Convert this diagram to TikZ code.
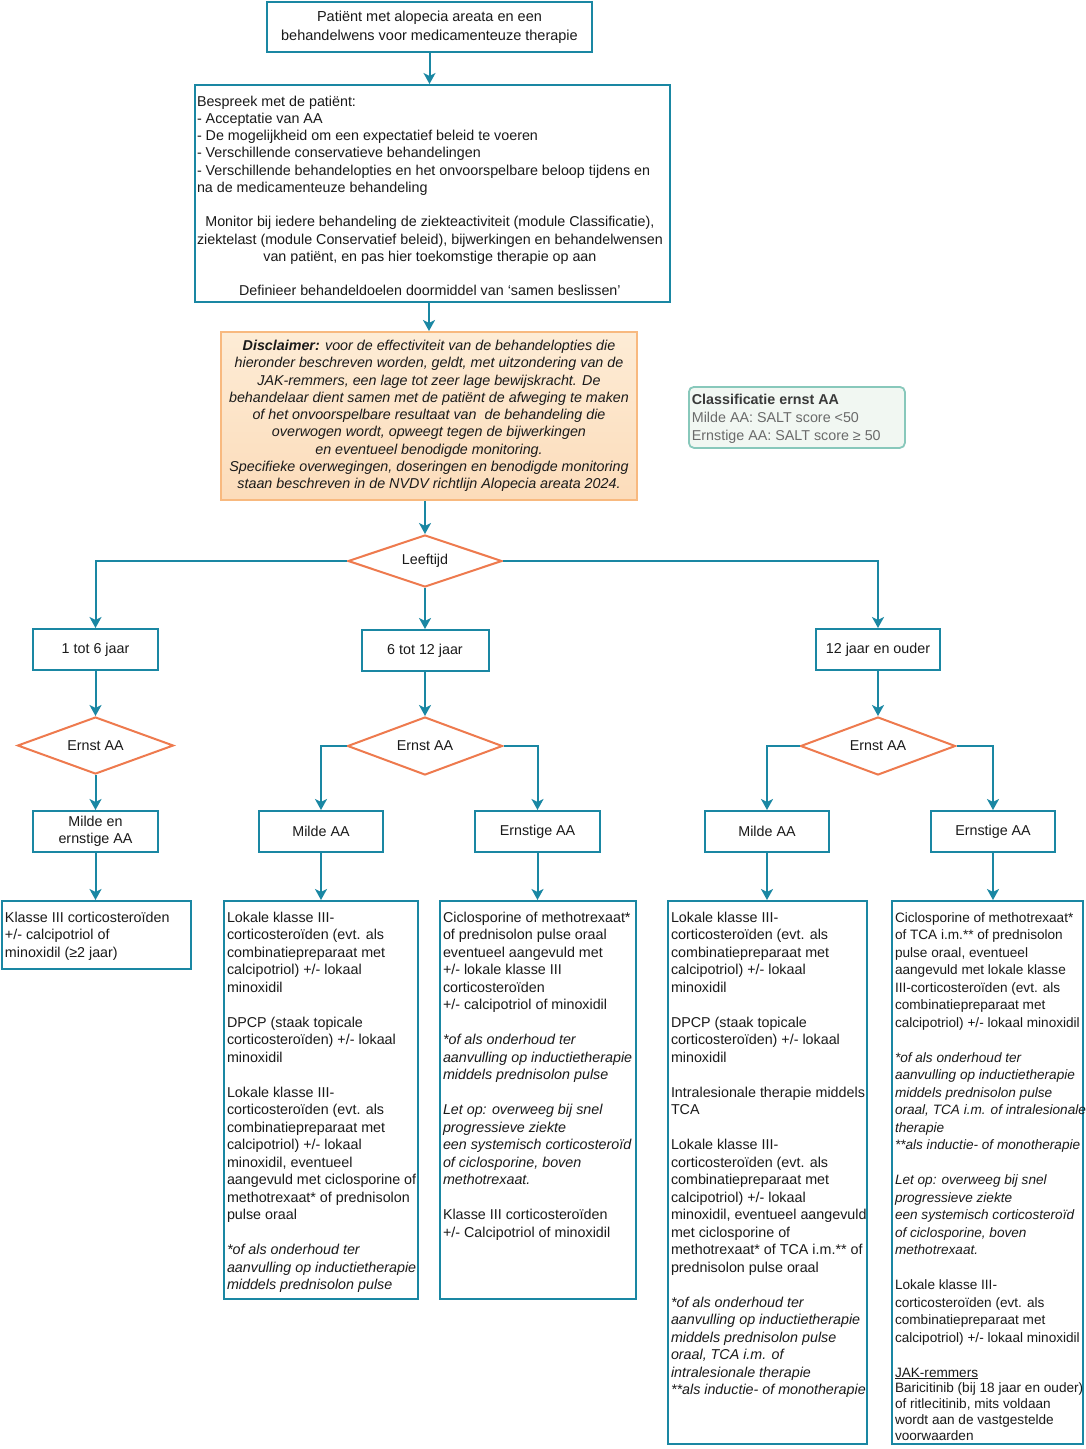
\documentclass[tikz,border=0pt]{standalone}
\usepackage{fontspec}
\setmainfont{Liberation Sans}
\usetikzlibrary{shapes.geometric,arrows.meta}
\definecolor{teal1}{HTML}{1A87A3}
\definecolor{orng}{HTML}{EE7A4E}
\definecolor{discb}{HTML}{F8B97F}
\definecolor{disct}{HTML}{FDECD6}
\definecolor{discbot}{HTML}{FCDCBA}
\definecolor{clsb}{HTML}{88C8BB}
\definecolor{clsf}{HTML}{F1F7F2}
\definecolor{txt}{HTML}{1A1A1A}
\definecolor{gtxt}{HTML}{6A6A6A}
\definecolor{cdark}{HTML}{3A3A3A}
\newcommand{\tl}[2]{\makebox[#1][l]{\begin{tabular}[t]{@{}l@{}}#2\end{tabular}}}
\newcommand{\fsa}{\fontsize{14.3}{17.27}\selectfont}
\newcommand{\fsb}{\fontsize{14.3}{17.5}\selectfont}
\newcommand{\fsc}{\fontsize{13.6}{17.5}\selectfont}
\tikzset{
  box/.style={draw=teal1, line width=2pt, fill=white, font=\fsa, text=txt, align=center, inner sep=0pt},
  tbox/.style={draw=teal1, line width=2pt, fill=white, font=\fsb, text=txt, inner xsep=3pt, inner ysep=0pt, text height=21pt, anchor=north west},
  dia/.style={diamond, aspect=3, draw=orng, line width=2pt, fill=white, inner sep=0pt, font=\fsa, text=txt},
  arr/.style={draw=teal1, line width=2pt, -{Stealth[length=11pt,width=12pt,inset=3pt]}}
}
\begin{document}
\begin{tikzpicture}[x=1pt,y=-1pt]
\useasboundingbox (0,0) rectangle (1086,1449);
\fill[white] (0,0) rectangle (1086,1449);

\node[box, minimum width=325pt, minimum height=50pt, font=\fontsize{14.5}{19}\selectfont] (top) at (429.5,27)
  {Patiënt met alopecia areata en een\\behandelwens voor medicamenteuze therapie};

\node[tbox, font=\fsa, inner xsep=2pt, text depth=196pt] (bespr) at (194,84)
  {\tl{471pt}{Bespreek met de patiënt:\\
  - Acceptatie van AA\\
  - De mogelijkheid om een expectatief beleid te voeren\\
  - Verschillende conservatieve behandelingen\\
  - Verschillende behandelopties en het onvoorspelbare beloop tijdens en\\
  na de medicamenteuze behandeling\\[17.27pt]
  \multicolumn{1}{@{}c@{}}{Monitor bij iedere behandeling de ziekteactiviteit (module Classificatie),}\\
  \multicolumn{1}{@{}c@{}}{ziektelast (module Conservatief beleid), bijwerkingen en behandelwensen}\\
  \multicolumn{1}{@{}c@{}}{van patiënt, en pas hier toekomstige therapie op aan}\\[17.27pt]
  \multicolumn{1}{@{}c@{}}{Definieer behandeldoelen doormiddel van ‘samen beslissen’}}};

\node[draw=discb, line width=2pt, top color=disct, bottom color=discbot, minimum width=416pt, minimum height=168pt,
      inner sep=0pt, align=center, font=\itshape\fsa, text=txt] (disc) at (429,416)
  {\textbf{Disclaimer:} voor de effectiviteit van de behandelopties die\\
   hieronder beschreven worden, geldt, met uitzondering van de\\
   JAK-remmers, een lage tot zeer lage bewijskracht. De\\
   behandelaar dient samen met de patiënt de afweging te maken\\
   of het onvoorspelbare resultaat van\ \ de behandeling die\\
   overwogen wordt, opweegt tegen de bijwerkingen\\
   en eventueel benodigde monitoring.\\
   Specifieke overwegingen, doseringen en benodigde monitoring\\
   staan beschreven in de NVDV richtlijn Alopecia areata 2024.};

\node[draw=clsb, line width=1.8pt, rounded corners=5pt, fill=clsf, anchor=north west, inner xsep=3pt, inner ysep=0pt,
      text height=18pt, text depth=43pt, font=\fontsize{14.3}{18}\selectfont] (cls) at (688,386)
  {\tl{210pt}{\textbf{\color{cdark}Classificatie ernst AA}\\
   \color{gtxt}Milde AA: SALT score <50\\
   \color{gtxt}Ernstige AA: SALT score ≥ 50}};

% decision and group nodes
\node[dia, minimum width=154pt, minimum height=52pt] (d0) at (425,561) {Leeftijd};
\node[box, minimum width=125pt, minimum height=41pt] (a1) at (95.5,649.5) {1 tot 6 jaar};
\node[box, minimum width=127pt, minimum height=41pt] (a2) at (425,650.5) {6 tot 12 jaar};
\node[box, minimum width=124pt, minimum height=41pt] (a3) at (878,649.5) {12 jaar en ouder};

\node[dia, minimum width=156pt, minimum height=57pt] (d1) at (95.5,745.5) {Ernst AA};
\node[dia, minimum width=155pt, minimum height=58pt] (d2) at (425,746) {Ernst AA};
\node[dia, minimum width=155pt, minimum height=58pt] (d3) at (878,746) {Ernst AA};

\node[box, minimum width=125pt, minimum height=41pt, font=\fontsize{14.3}{17}\selectfont] (m1) at (95.5,831.5) {Milde en\\ernstige AA};
\node[box, minimum width=124pt, minimum height=41pt] (m2) at (321,831.5) {Milde AA};
\node[box, minimum width=125pt, minimum height=41pt] (e2) at (537.5,831.5) {Ernstige AA};
\node[box, minimum width=124pt, minimum height=41pt] (m3) at (767,831.5) {Milde AA};
\node[box, minimum width=124pt, minimum height=41pt] (e3) at (993,831.5) {Ernstige AA};

% bottom boxes
\node[tbox, text depth=47pt] (b1) at (1,900)
  {\tl{183pt}{Klasse III corticosteroïden\\+/- calcipotriol of\\minoxidil (≥2 jaar)}};

\node[tbox, text depth=377pt] (b2) at (223,900)
  {\tl{188pt}{Lokale klasse III-\\corticosteroïden (evt. als\\combinatiepreparaat met\\calcipotriol) +/- lokaal\\minoxidil\\[17.5pt]
  DPCP (staak topicale\\corticosteroïden) +/- lokaal\\minoxidil\\[17.5pt]
  Lokale klasse III-\\corticosteroïden (evt. als\\combinatiepreparaat met\\calcipotriol) +/- lokaal\\minoxidil, eventueel\\aangevuld met ciclosporine of\\methotrexaat* of prednisolon\\pulse oraal\\[17.5pt]
  \itshape *of als onderhoud ter\\\itshape aanvulling op inductietherapie\\\itshape middels prednisolon pulse}};

\node[tbox, text depth=377pt] (b3) at (439,900)
  {\tl{190pt}{Ciclosporine of methotrexaat*\\of prednisolon pulse oraal\\eventueel aangevuld met\\+/- lokale klasse III\\corticosteroïden\\+/- calcipotriol of minoxidil\\[17.5pt]
  \itshape *of als onderhoud ter\\\itshape aanvulling op inductietherapie\\\itshape middels prednisolon pulse\\[17.5pt]
  \itshape Let op: overweeg bij snel\\\itshape progressieve ziekte\\\itshape een systemisch corticosteroïd\\\itshape of ciclosporine, boven\\\itshape methotrexaat.\\[17.5pt]
  Klasse III corticosteroïden\\+/- Calcipotriol of minoxidil}};

\node[tbox, text depth=522pt] (b4) at (667,900)
  {\tl{193pt}{Lokale klasse III-\\corticosteroïden (evt. als\\combinatiepreparaat met\\calcipotriol) +/- lokaal\\minoxidil\\[17.5pt]
  DPCP (staak topicale\\corticosteroïden) +/- lokaal\\minoxidil\\[17.5pt]
  Intralesionale therapie middels\\TCA\\[17.5pt]
  Lokale klasse III-\\corticosteroïden (evt. als\\combinatiepreparaat met\\calcipotriol) +/- lokaal\\minoxidil, eventueel aangevuld\\met ciclosporine of\\methotrexaat* of TCA i.m.** of\\prednisolon pulse oraal\\[17.5pt]
  \itshape *of als onderhoud ter\\\itshape aanvulling op inductietherapie\\\itshape middels prednisolon pulse\\\itshape oraal, TCA i.m. of\\\itshape intralesionale therapie\\\itshape **als inductie- of monotherapie}};

\node[tbox, font=\fsc, text depth=522pt] (b5) at (891,900)
  {\tl{185pt}{Ciclosporine of methotrexaat*\\of TCA i.m.** of prednisolon\\pulse oraal, eventueel\\aangevuld met lokale klasse\\III-corticosteroïden (evt. als\\combinatiepreparaat met\\calcipotriol) +/- lokaal minoxidil\\[17.5pt]
  \itshape *of als onderhoud ter\\\itshape aanvulling op inductietherapie\\\itshape middels prednisolon pulse\\\itshape oraal, TCA i.m. of intralesionale\\\itshape therapie\\\itshape **als inductie- of monotherapie\\[17.5pt]
  \itshape Let op: overweeg bij snel\\\itshape progressieve ziekte\\\itshape een systemisch corticosteroïd\\\itshape of ciclosporine, boven\\\itshape methotrexaat.\\[17.5pt]
  Lokale klasse III-\\corticosteroïden (evt. als\\combinatiepreparaat met\\calcipotriol) +/- lokaal minoxidil\\[17.5pt]
  \underline{JAK-remmers}\\\noalign{\vskip-1.7pt}
  Baricitinib (bij 18 jaar en ouder)\\\noalign{\vskip-1.7pt}
  of ritlecitinib, mits voldaan\\\noalign{\vskip-1.7pt}
  wordt aan de vastgestelde\\\noalign{\vskip-1.7pt}
  voorwaarden}};

% connectors
\draw[arr] (top.south) -- (top.south |- bespr.north);
\draw[arr] (bespr.south -| disc) -- (disc.north);
\draw[arr] (disc.south -| d0) -- (d0.north);
\draw[arr] (d0.west) -| (a1.north);
\draw[arr] (d0.east) -| (a3.north);
\draw[arr] (d0.south) -- (a2.north);
\draw[arr] (a1.south) -- (d1.north);
\draw[arr] (a2.south) -- (d2.north);
\draw[arr] (a3.south) -- (d3.north);
\draw[arr] (d1.south) -- (m1.north);
\draw[arr] (d2.west) -| (m2.north);
\draw[arr] (d2.east) -| (e2.north);
\draw[arr] (d3.west) -| (m3.north);
\draw[arr] (d3.east) -| (e3.north);
\draw[arr] (m1.south) -- (m1.south |- b1.north);
\draw[arr] (m2.south) -- (m2.south |- b2.north);
\draw[arr] (e2.south) -- (e2.south |- b3.north);
\draw[arr] (m3.south) -- (m3.south |- b4.north);
\draw[arr] (e3.south) -- (e3.south |- b5.north);
\end{tikzpicture}
\end{document}
